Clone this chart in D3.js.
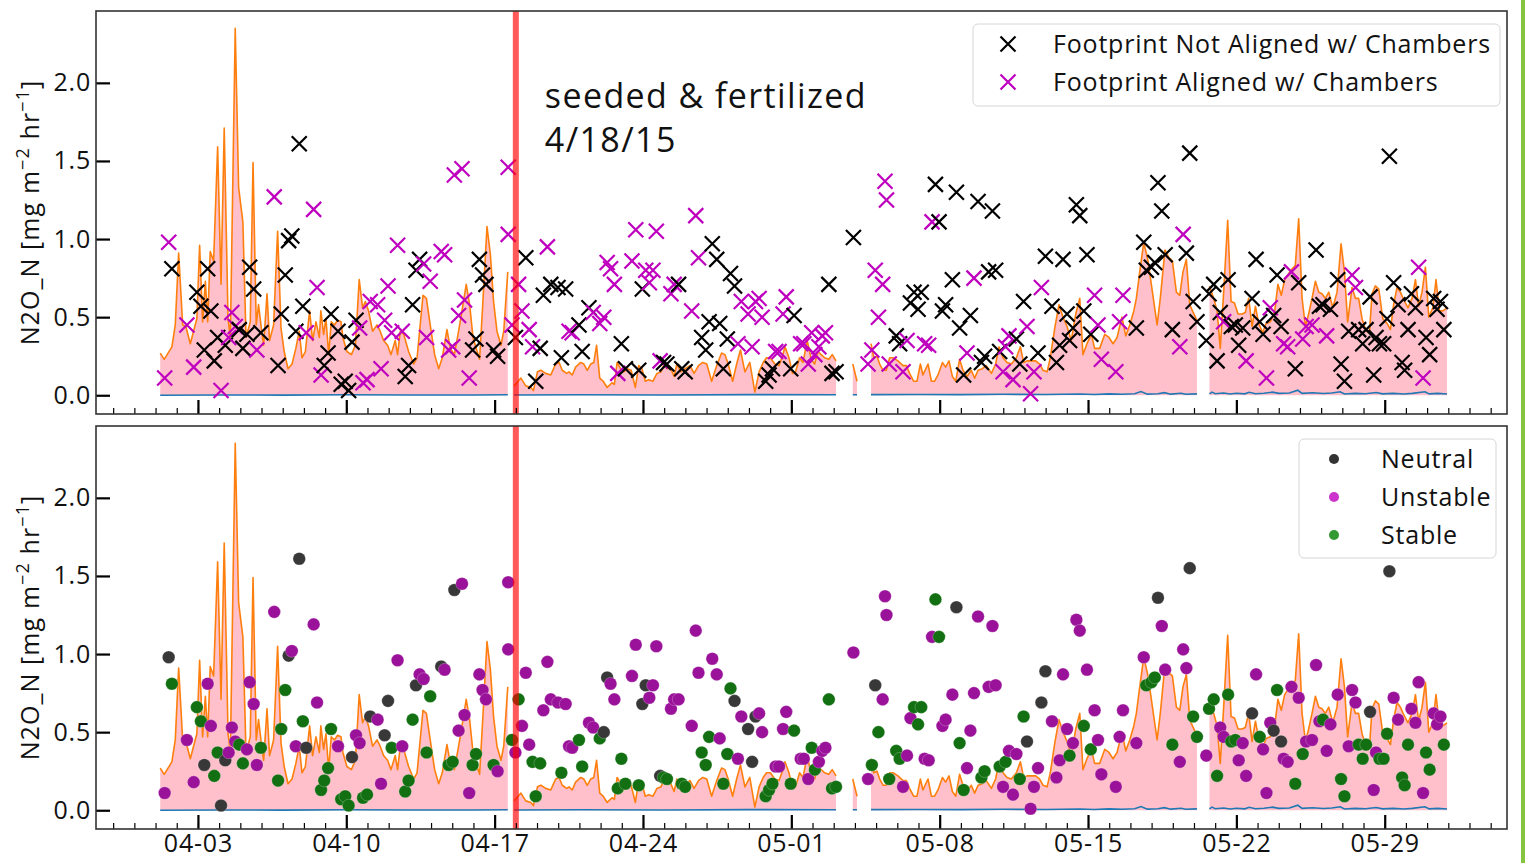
<!DOCTYPE html>
<html>
<head>
<meta charset="utf-8">
<script src="https://cdn.jsdelivr.net/npm/d3@7"></script>
<style>
  body { margin: 0; background: #fff; }
  svg text { font-family: "Open Sans", "Noto Sans", sans-serif; fill: #111; letter-spacing: 0.8px; }
</style>
</head>
<body>
<svg id="chart" width="1529" height="863"></svg>
<script>
// times are days since 2015-04-01 00:00, values in mg m-2 hr-1

// chamber flux (orange line / pink fill), null = gap
const chamberFlux = [
  [0.22,0.27],[0.41,0.23],[0.77,0.31],[0.93,0.45],[1.09,0.91],[1.28,0.45],[1.43,0.44],[1.64,0.33],[1.87,0.45],[1.95,0.49],
  [2.08,0.96],[2.22,0.47],[2.35,0.73],[2.46,0.47],[2.58,0.92],[2.74,0.86],[2.93,1.59],[3.09,0.71],[3.24,1.71],[3.42,0.49],
  [3.53,0.37],[3.76,2.35],[3.92,1.33],[4.12,1.11],[4.27,0.37],[4.47,0.47],[4.60,1.49],[4.75,0.45],[4.86,0.58],[4.99,0.43],
  [5.10,0.32],[5.26,0.65],[5.38,0.35],[5.57,0.45],[5.76,1.05],[5.92,0.43],[6.07,0.28],[6.25,0.17],[6.44,0.20],[6.62,0.30],
  [6.78,0.41],[6.91,0.24],[7.07,0.28],[7.27,0.54],[7.41,0.35],[7.57,0.47],[7.73,0.37],[7.80,0.54],[7.93,0.39],[8.04,0.49],
  [8.17,0.26],[8.29,0.47],[8.44,0.45],[8.59,0.48],[8.75,0.47],[8.84,0.37],[9.03,0.28],[9.24,0.26],[9.43,0.32],[9.61,0.74],
  [9.77,0.56],[9.90,0.60],[10.05,0.54],[10.24,0.41],[10.45,0.45],[10.60,0.41],[10.76,0.35],[10.95,0.32],[11.11,0.26],[11.31,0.35],
  [11.42,0.26],[11.55,0.41],[11.71,0.39],[11.94,0.28],[12.18,0.20],[12.34,0.24],[12.62,0.64],[12.78,0.62],[12.96,0.45],[13.17,0.26],
  [13.36,0.17],[13.53,0.24],[13.75,0.42],[13.91,0.30],[14.10,0.26],[14.30,0.41],[14.46,0.54],[14.66,0.71],[14.82,0.58],[14.98,0.37],
  [15.13,0.30],[15.29,0.23],[15.43,0.56],[15.64,1.08],[15.80,0.90],[15.95,0.60],[16.11,0.41],[16.30,0.32],[16.43,0.41],[16.62,0.79],
  null,
  [16.92,0.06],[17.24,0.11],[17.47,0.06],[17.71,0.05],[17.83,0.03],[18.02,0.15],[18.18,0.16],[18.41,0.14],[18.65,0.13],[18.88,0.20],
  [19.04,0.21],[19.19,0.16],[19.40,0.14],[19.51,0.15],[19.66,0.13],[19.82,0.18],[20.06,0.21],[20.21,0.20],[20.37,0.16],[20.53,0.20],
  [20.68,0.21],[20.81,0.32],[20.96,0.11],[21.12,0.09],[21.31,0.05],[21.54,0.08],[21.65,0.07],[21.78,0.21],[21.94,0.17],[22.09,0.15],
  [22.25,0.17],[22.44,0.16],[22.64,0.05],[22.80,0.19],[22.95,0.17],[23.11,0.09],[23.27,0.10],[23.47,0.09],[23.66,0.14],[23.85,0.15],
  [24.00,0.20],[24.13,0.17],[24.28,0.18],[24.47,0.12],[24.60,0.20],[24.79,0.15],[24.99,0.17],[25.22,0.19],[25.41,0.14],[25.62,0.19],
  [25.82,0.21],[26.01,0.20],[26.24,0.09],[26.48,0.19],[26.71,0.27],[26.87,0.26],[27.02,0.20],[27.23,0.09],[27.42,0.20],[27.60,0.29],
  [27.81,0.15],[28.04,0.21],[28.28,0.02],[28.48,0.15],[28.67,0.21],[28.83,0.24],[29.01,0.24],[29.22,0.20],[29.42,0.19],[29.58,0.25],
  [29.70,0.31],[29.89,0.24],[30.05,0.14],[30.20,0.15],[30.39,0.24],[30.55,0.21],[30.75,0.35],[30.94,0.23],[31.10,0.20],[31.25,0.28],
  [31.41,0.26],[31.57,0.24],[31.77,0.23],[31.93,0.26],[32.11,0.22],
  null,
  [32.90,0.20],[33.10,0.09],
  null,
  [33.76,0.33],[33.89,0.24],[34.04,0.25],[34.17,0.20],[34.33,0.16],[34.48,0.16],[34.64,0.24],[34.80,0.24],[35.03,0.22],[35.27,0.19],
  [35.43,0.19],[35.58,0.14],[35.77,0.09],[35.93,0.09],[36.09,0.20],[36.21,0.13],[36.45,0.20],[36.61,0.09],[36.76,0.09],[36.92,0.13],
  [37.13,0.21],[37.28,0.18],[37.44,0.22],[37.60,0.12],[37.76,0.09],[37.94,0.23],[38.10,0.16],[38.29,0.12],[38.49,0.16],[38.65,0.11],
  [38.81,0.16],[39.01,0.17],[39.20,0.19],[39.44,0.14],[39.64,0.20],[39.80,0.31],[39.99,0.24],[40.18,0.21],[40.38,0.20],[40.62,0.24],
  [40.81,0.31],[40.96,0.21],[41.12,0.22],[41.33,0.22],[41.53,0.22],[41.72,0.20],[41.88,0.16],[42.07,0.15],[42.22,0.24],[42.43,0.43],
  [42.63,0.58],[42.82,0.50],[43.01,0.44],[43.21,0.35],[43.42,0.52],[43.61,0.62],[43.76,0.26],[43.95,0.33],[44.16,0.39],[44.31,0.30],
  [44.55,0.30],[44.79,0.39],[44.99,0.37],[45.18,0.33],[45.37,0.37],[45.60,0.50],[45.78,0.38],[45.97,0.45],[46.16,0.54],[46.28,0.62],
  [46.44,0.79],[46.63,0.98],[46.83,0.86],[47.04,0.66],[47.26,0.45],[47.41,0.62],[47.63,0.93],[47.82,0.88],[47.98,0.86],[48.17,0.66],
  [48.33,0.64],[48.48,0.79],[48.64,0.87],[48.80,0.58],[48.96,0.53],[49.14,0.48],
  null,
  [49.73,0.70],[49.93,0.62],[50.09,0.54],[50.24,0.30],[50.40,0.66],[50.59,1.12],[50.75,0.60],[50.91,0.59],[51.08,0.52],[51.27,0.52],
  [51.42,0.53],[51.58,0.62],[51.74,0.44],[51.90,0.57],[52.05,0.46],[52.24,0.40],[52.40,0.46],[52.60,0.47],[52.81,0.54],[52.96,0.71],
  [53.12,0.64],[53.28,0.74],[53.47,0.78],[53.63,0.81],[53.78,0.83],[53.94,1.13],[54.10,0.62],[54.26,0.44],[54.41,0.52],[54.57,0.62],
  [54.73,0.73],[54.89,0.66],[55.04,0.65],[55.20,0.62],[55.36,0.66],[55.55,0.56],[55.75,0.66],[55.94,0.97],[56.10,0.79],[56.25,0.47],
  [56.46,0.69],[56.62,0.62],[56.77,0.62],[56.93,0.49],[57.12,0.41],[57.28,0.40],[57.40,0.65],[57.56,0.70],[57.72,0.68],[57.91,0.49],
  [58.11,0.46],[58.27,0.42],[58.42,0.58],[58.58,0.69],[58.74,0.66],[58.90,0.61],[59.10,0.56],[59.29,0.62],[59.45,0.74],[59.60,0.57],
  [59.76,0.66],[59.92,0.82],[60.08,0.50],[60.27,0.56],[60.42,0.74],[60.58,0.54],[60.74,0.54],[60.94,0.56]
];

// background flux (blue line near zero), null = gap
const baselineFlux = [
  [0.22,0.000],[3,0.002],[6,0.001],[9,0.003],[12,0.002],[15,0.002],[16.62,0.003],null,
  [16.92,0.002],[20,0.003],[24,0.002],[28,0.004],[32.11,0.003],null,
  [32.90,0.003],[33.10,0.003],null,
  [33.76,0.004],[36,0.005],[38,0.004],[40,0.006],[42,0.005],[43.6,0.008],[44.3,0.005],[45,0.009],[45.6,0.006],[46.2,0.010],
  [46.5,0.024],[46.8,0.007],[47.3,0.010],[47.6,0.017],[47.9,0.007],[48.4,0.013],[48.6,0.006],[49.14,0.009],null,
  [49.73,0.009],[49.85,0.020],[50.0,0.010],[50.4,0.014],[50.7,0.008],[51.0,0.013],[51.4,0.009],[51.6,0.019],[51.9,0.010],
  [52.3,0.013],[52.7,0.020],[53.0,0.012],[53.5,0.014],[53.9,0.032],[54.1,0.012],[54.6,0.016],[55.1,0.011],[55.5,0.014],
  [55.9,0.022],[56.1,0.008],[56.6,0.012],[57.1,0.010],[57.6,0.018],[57.9,0.009],[58.4,0.012],[58.9,0.008],[59.3,0.012],
  [59.9,0.022],[60.1,0.009],[60.5,0.012],[60.94,0.008]
];

// eddy covariance observations: [time, value, stability N/U/S, footprint aligned 1/0]
const towerFlux = [
  [0.43,0.11,"U",1],[0.62,0.98,"N",1],[0.77,0.81,"S",0],[1.48,0.45,"U",1],[1.80,0.18,"U",1],[1.95,0.66,"S",0],[2.14,0.57,"S",0],
  [2.30,0.29,"N",0],[2.46,0.81,"U",0],[2.61,0.54,"U",0],[2.77,0.22,"S",0],[2.93,0.37,"S",0],[3.09,0.03,"N",1],[3.29,0.32,"N",0],
  [3.45,0.37,"U",1],[3.60,0.53,"U",1],[3.76,0.44,"U",1],[3.95,0.42,"S",0],[4.12,0.30,"S",0],[4.31,0.39,"U",0],[4.44,0.82,"U",0],
  [4.63,0.68,"U",0],[4.78,0.29,"U",1],[4.97,0.40,"S",0],[5.60,1.27,"U",1],[5.78,0.19,"S",0],[5.93,0.52,"S",0],[6.12,0.77,"S",0],
  [6.28,0.99,"N",0],[6.43,1.02,"U",0],[6.62,0.41,"U",0],[6.78,1.61,"N",0],[6.95,0.57,"S",0],[7.11,0.40,"N",1],[7.46,1.19,"U",1],
  [7.62,0.69,"U",1],[7.81,0.13,"S",1],[7.96,0.19,"S",0],[8.14,0.27,"S",0],[8.28,0.52,"S",0],[8.61,0.41,"U",0],[8.76,0.07,"S",0],
  [8.95,0.09,"S",0],[9.11,0.03,"S",0],[9.27,0.34,"N",0],[9.46,0.48,"U",0],[9.63,0.43,"U",1],[9.79,0.08,"S",1],[9.98,0.10,"S",1],
  [10.13,0.60,"N",1],[10.48,0.58,"U",1],[10.64,0.17,"U",1],[10.81,0.48,"N",1],[10.97,0.70,"N",1],[11.14,0.40,"S",1],[11.42,0.96,"U",1],
  [11.64,0.41,"U",1],[11.78,0.12,"S",0],[11.94,0.19,"S",0],[12.13,0.58,"S",0],[12.29,0.80,"N",0],[12.46,0.87,"U",0],[12.65,0.84,"U",1],
  [12.79,0.37,"S",1],[12.96,0.73,"S",1],[13.48,0.92,"N",1],[13.64,0.90,"U",1],[13.83,0.29,"S",1],[14.02,0.31,"S",1],[14.10,1.41,"N",1],
  [14.30,0.51,"U",1],[14.46,1.45,"U",1],[14.58,0.61,"U",1],[14.80,0.11,"U",1],[14.96,0.29,"S",0],[15.12,0.36,"S",0],[15.28,0.87,"U",0],
  [15.43,0.77,"U",0],[15.59,0.71,"U",0],[15.95,0.29,"S",0],[16.14,0.25,"U",0],[16.64,1.46,"U",1],[16.64,1.03,"U",1],[16.82,0.45,"S",1],
  [16.98,0.37,"U",0],[17.13,0.71,"S",1],[17.29,0.54,"U",1],
  [17.47,0.88,"U",0],[17.63,0.42,"U",1],[17.79,0.31,"S",1],[17.94,0.09,"S",0],[18.15,0.30,"S",0],[18.30,0.64,"U",0],[18.49,0.95,"U",1],
  [18.65,0.71,"U",0],[18.99,0.69,"U",0],[19.15,0.24,"S",0],[19.35,0.68,"U",0],[19.51,0.41,"U",1],[19.66,0.40,"U",1],[19.98,0.45,"S",0],
  [20.13,0.28,"S",0],[20.45,0.56,"U",0],[20.65,0.53,"U",1],[20.96,0.46,"S",1],[21.15,0.50,"N",1],[21.31,0.85,"N",1],[21.47,0.81,"U",1],
  [21.65,0.71,"U",1],[21.81,0.14,"S",1],[21.98,0.33,"S",0],[22.17,0.17,"S",0],[22.48,0.86,"U",1],[22.66,1.06,"U",1],[22.80,0.16,"S",0],
  [22.97,0.68,"N",0],[23.13,0.80,"N",1],[23.30,0.72,"U",1],[23.47,0.80,"U",1],[23.63,1.05,"U",1],[23.81,0.22,"N",1],[23.97,0.21,"S",0],
  [24.13,0.20,"S",0],[24.32,0.65,"U",1],[24.47,0.71,"U",1],[24.68,0.71,"U",0],[24.83,0.17,"S",0],[24.99,0.15,"S",0],[25.30,0.54,"U",1],
  [25.49,1.15,"U",1],[25.62,0.88,"U",1],[25.77,0.37,"S",0],[25.96,0.29,"S",0],[26.12,0.47,"S",0],[26.27,0.97,"U",0],[26.48,0.87,"U",0],
  [26.62,0.46,"U",0],[26.79,0.17,"S",0],[26.98,0.36,"S",0],[27.13,0.78,"S",0],[27.32,0.70,"N",0],[27.48,0.33,"U",1],[27.64,0.60,"U",1],
  [27.96,0.52,"N",1],[28.15,0.31,"N",1],[28.31,0.60,"N",1],[28.48,0.62,"U",1],[28.62,0.50,"U",1],[28.79,0.09,"S",0],[28.95,0.13,"S",0],
  [29.11,0.17,"S",0],[29.26,0.28,"U",1],[29.42,0.28,"U",1],[29.61,0.52,"U",1],[29.76,0.63,"U",1],[29.97,0.17,"S",0],[30.13,0.51,"S",0],
  [30.44,0.33,"U",1],[30.59,0.33,"U",1],[30.80,0.20,"U",1],[30.96,0.40,"S",1],[31.11,0.26,"S",1],[31.30,0.31,"U",1],[31.46,0.38,"U",1],
  [31.61,0.40,"U",1],[31.77,0.71,"S",0],[31.92,0.14,"S",0],[32.11,0.15,"S",0],[32.93,1.01,"U",0],[33.62,0.20,"U",1],[33.80,0.29,"S",1],
  [33.96,0.80,"N",1],[34.11,0.50,"S",1],[34.31,0.71,"U",1],[34.42,1.37,"U",1],[34.49,1.25,"U",1],[34.62,0.20,"S",1],
  [34.95,0.38,"S",0],[35.11,0.33,"S",0],[35.27,0.15,"U",1],[35.46,0.35,"U",1],[35.62,0.59,"U",0],[35.79,0.66,"S",0],[35.98,0.55,"S",0],
  [36.13,0.66,"S",0],[36.29,0.33,"U",1],[36.48,0.32,"U",1],[36.64,1.11,"U",1],[36.80,1.35,"S",0],[36.97,1.11,"S",0],[37.13,0.54,"U",0],
  [37.28,0.58,"U",0],[37.60,0.74,"U",0],[37.79,1.30,"N",0],[37.94,0.43,"S",0],[38.13,0.13,"S",0],[38.29,0.27,"U",1],[38.45,0.51,"U",0],
  [38.62,0.75,"U",1],[38.81,1.24,"U",0],[38.97,0.21,"S",0],[39.12,0.25,"S",0],[39.31,0.79,"U",0],[39.49,1.18,"U",0],[39.64,0.80,"U",0],
  [39.83,0.28,"S",0],[39.99,0.15,"U",1],[40.11,0.31,"S",1],[40.27,0.38,"U",1],[40.46,0.10,"U",1],[40.62,0.36,"U",0],[40.78,0.20,"S",0],
  [40.96,0.60,"S",0],[41.12,0.44,"N",1],[41.29,0.01,"U",1],[41.45,0.15,"U",1],[41.64,0.27,"U",0],[41.80,0.69,"N",1],[41.99,0.89,"N",0],
  [42.30,0.57,"U",0],[42.51,0.21,"U",0],[42.66,0.32,"U",0],[42.82,0.87,"U",0],[43.01,0.52,"U",0],[43.13,0.35,"S",0],[43.29,0.43,"U",0],
  [43.45,1.22,"U",0],[43.61,1.15,"U",0],[43.80,0.54,"S",0],[43.95,0.90,"U",0],[44.13,0.39,"S",0],[44.31,0.64,"U",1],[44.47,0.45,"U",1],
  [44.63,0.23,"U",1],[45.31,0.15,"U",1],[45.49,0.47,"U",1],[45.65,0.64,"U",1],[46.28,0.43,"U",0],[46.63,0.98,"U",0],[46.75,0.80,"S",0],
  [46.99,0.82,"S",0],[47.15,0.85,"S",0],[47.30,1.36,"N",0],[47.48,1.18,"U",0],[47.64,0.90,"U",0],[47.98,0.42,"S",0],[48.33,0.31,"U",1],
  [48.49,1.03,"U",1],[48.64,0.91,"U",0],[48.80,1.55,"N",0],[48.96,0.60,"S",0],[49.14,0.47,"S",0],[49.58,0.35,"U",0],[49.71,0.65,"S",0],
  [49.93,0.71,"S",0],[50.09,0.22,"S",0],[50.24,0.53,"U",0],[50.40,0.47,"U",1],[50.61,0.74,"S",0],[50.76,0.44,"S",0],[50.95,0.45,"S",0],
  [51.11,0.32,"U",0],[51.30,0.43,"U",0],[51.46,0.22,"U",1],[51.74,0.62,"N",0],[51.93,0.87,"U",0],[52.10,0.47,"S",0],[52.26,0.39,"U",0],
  [52.42,0.11,"U",1],[52.60,0.56,"U",1],[52.76,0.51,"N",0],[52.92,0.77,"S",0],[53.11,0.44,"N",0],[53.23,0.33,"U",1],[53.42,0.31,"U",1],
  [53.60,0.79,"U",1],[53.78,0.17,"S",0],[53.94,0.72,"U",0],[54.13,0.36,"S",1],[54.29,0.44,"U",1],[54.57,0.45,"U",1],[54.76,0.93,"U",0],
  [54.92,0.57,"U",0],[55.09,0.58,"S",0],[55.26,0.38,"U",1],[55.44,0.55,"U",0],[55.78,0.74,"U",0],[55.94,0.20,"S",0],[56.10,0.09,"S",0],
  [56.30,0.41,"U",0],[56.46,0.77,"U",1],[56.62,0.69,"U",1],[56.77,0.42,"S",0],[56.96,0.33,"S",0],[57.12,0.42,"S",0],[57.31,0.63,"N",0],
  [57.48,0.13,"U",0],[57.59,0.37,"U",0],[57.75,0.33,"S",0],[57.95,0.33,"S",0],[58.11,0.49,"S",0],[58.22,1.53,"N",0],[58.42,0.72,"U",0],
  [58.63,0.58,"U",0],[58.82,0.21,"S",0],[58.94,0.16,"S",0],[59.10,0.42,"S",0],[59.26,0.65,"U",0],[59.45,0.56,"U",0],[59.60,0.82,"U",1],
  [59.81,0.11,"U",1],[59.95,0.37,"S",0],[60.12,0.26,"S",0],[60.31,0.62,"U",0],[60.47,0.55,"U",0],[60.63,0.60,"U",0],[60.79,0.42,"S",0]
];

const footprintLabels = ["Footprint Not Aligned w/ Chambers", "Footprint Aligned w/ Chambers"];
const stabilityLabels = ["Neutral", "Unstable", "Stable"];
const yTicks = [0, 0.5, 1.0, 1.5, 2.0];
const eventDay = 17; // 4/18/15
const eventLines = ["seeded & fertilized", "4/18/15"];

const svg = d3.select("#chart");
const day0 = Date.UTC(2015, 3, 1);
const toDate = (t) => new Date(day0 + t * 864e5);

const footColor = { 0: "#000000", 1: "#bf00bf" };
const stabColor = { N: "#383838", U: "#9a1299", S: "#127012" };
const stabLegendColor = { N: "#333333", U: "#cc33cc", S: "#339933" };
const stabCodes = ["N", "U", "S"];

const x = d3.scaleUtc()
  .domain([toDate(-2.81), toDate(63.77)])
  .range([96, 1507]);

const allDays = d3.utcDay.range(x.domain()[0], x.domain()[1]);
const weekDays = allDays.filter((d) => {
  const n = Math.round((d - day0) / 864e5) - 2;
  return ((n % 7) + 7) % 7 === 0;
});

const panels = [
  { id: "foot", top: 11, bottom: 414, labels: false },
  { id: "stab", top: 426, bottom: 829, labels: true }
];

// green edge strip at the right of the figure
svg.append("rect").attr("x", 1521).attr("y", 0).attr("width", 4).attr("height", 863).attr("fill", "#86c440");

panels.forEach((p) => {
  const y = d3.scaleLinear().domain([-0.12, 2.46]).range([p.bottom, p.top]);
  const g = svg.append("g");

  g.append("clipPath").attr("id", "clip-" + p.id)
    .append("rect").attr("x", 96).attr("y", p.top).attr("width", 1411).attr("height", p.bottom - p.top);

  const plot = g.append("g").attr("clip-path", `url(#clip-${p.id})`);

  const area = d3.area()
    .defined((d) => d)
    .x((d) => x(toDate(d[0])))
    .y0(y(0))
    .y1((d) => y(d[1]));

  const line = d3.line()
    .defined((d) => d)
    .x((d) => x(toDate(d[0])))
    .y((d) => y(d[1]));

  plot.append("path").datum(chamberFlux).attr("d", area).attr("fill", "#ffc0cb");
  plot.append("path").datum(chamberFlux).attr("d", line)
    .attr("fill", "none").attr("stroke", "#ff7f0e").attr("stroke-width", 1.6).attr("stroke-linejoin", "round");
  plot.append("path").datum(baselineFlux).attr("d", line)
    .attr("fill", "none").attr("stroke", "#1f77b4").attr("stroke-width", 1.6);

  if (p.id === "foot") {
    plot.selectAll("path.obs")
      .data(towerFlux)
      .join("path")
      .attr("class", "obs")
      .attr("transform", (d) => `translate(${x(toDate(d[0]))},${y(d[1])})`)
      .attr("d", "M-7.5,-7.5L7.5,7.5M-7.5,7.5L7.5,-7.5")
      .attr("fill", "none")
      .attr("stroke", (d) => footColor[d[3]])
      .attr("stroke-width", 2.2);
  } else {
    plot.selectAll("circle.obs")
      .data(towerFlux)
      .join("circle")
      .attr("class", "obs")
      .attr("cx", (d) => x(toDate(d[0])))
      .attr("cy", (d) => y(d[1]))
      .attr("r", 6.3)
      .attr("fill", (d) => stabColor[d[2]])
      .attr("stroke", "#ffffff")
      .attr("stroke-opacity", 0.4)
      .attr("stroke-width", 0.6);
  }

  // planting / fertilizer date
  plot.append("rect")
    .attr("x", x(toDate(eventDay)) - 3)
    .attr("y", p.top)
    .attr("width", 6)
    .attr("height", p.bottom - p.top)
    .attr("fill", "#ff0000")
    .attr("opacity", 0.65);

  // axes (ticks inside)
  const xMinor = d3.axisBottom(x).tickValues(allDays).tickSizeInner(-6).tickSizeOuter(0).tickFormat("");
  g.append("g").attr("transform", `translate(0,${p.bottom})`).call(xMinor)
    .call((s) => s.select(".domain").remove())
    .call((s) => s.selectAll(".tick line").attr("stroke", "#000").attr("stroke-width", 1.2));

  const xMajor = d3.axisBottom(x).tickValues(weekDays).tickSizeInner(-14).tickSizeOuter(0).tickPadding(5)
    .tickFormat(p.labels ? d3.utcFormat("%m-%d") : "");
  g.append("g").attr("transform", `translate(0,${p.bottom})`).call(xMajor)
    .attr("font-size", 25).attr("font-family", null)
    .call((s) => s.select(".domain").remove())
    .call((s) => s.selectAll(".tick line").attr("stroke", "#000").attr("stroke-width", 2.2));

  const yAxis = d3.axisLeft(y).tickValues(yTicks).tickSizeInner(-14).tickSizeOuter(0).tickPadding(5)
    .tickFormat(d3.format(".1f"));
  g.append("g").attr("transform", "translate(96,0)").call(yAxis)
    .attr("font-size", 25).attr("font-family", null)
    .call((s) => s.select(".domain").remove())
    .call((s) => s.selectAll(".tick line").attr("stroke", "#000").attr("stroke-width", 2.2));

  g.append("rect")
    .attr("x", 96).attr("y", p.top).attr("width", 1411).attr("height", p.bottom - p.top)
    .attr("fill", "none").attr("stroke", "#333").attr("stroke-width", 1.6);

  // y label
  const yl = g.append("text")
    .attr("transform", `translate(39,${(p.top + p.bottom) / 2}) rotate(-90)`)
    .attr("text-anchor", "middle")
    .attr("font-size", 25)
    .style("letter-spacing", "1.1px");
  yl.append("tspan").text("N2O_N [mg m");
  yl.append("tspan").attr("dy", -10).attr("font-size", 18).text("\u22122");
  yl.append("tspan").attr("dy", 10).text(" hr");
  yl.append("tspan").attr("dy", -10).attr("font-size", 18).text("\u22121");
  yl.append("tspan").attr("dy", 10).text("]");

  if (p.id === "foot") {
    const tx = x(toDate(eventDay)) + 29;
    g.selectAll("text.event")
      .data(eventLines)
      .join("text")
      .attr("class", "event")
      .attr("x", tx)
      .attr("y", (d, i) => 108 + i * 44)
      .attr("font-size", 34)
      .style("letter-spacing", "1.4px")
      .text((d) => d);

    const lg = g.append("g");
    lg.append("rect").attr("x", 973).attr("y", 24).attr("width", 527).attr("height", 82).attr("rx", 5)
      .attr("fill", "#fff").attr("fill-opacity", 0.8).attr("stroke", "#d6d6d6");
    footprintLabels.forEach((lab, i) => {
      const cy = 44 + i * 38;
      lg.append("path").attr("transform", `translate(1008,${cy})`)
        .attr("d", "M-7.5,-7.5L7.5,7.5M-7.5,7.5L7.5,-7.5")
        .attr("stroke", footColor[i]).attr("stroke-width", 2.2).attr("fill", "none");
      lg.append("text").attr("x", 1053).attr("y", cy + 9).attr("font-size", 25).text(lab);
    });
  } else {
    const lg = g.append("g");
    lg.append("rect").attr("x", 1299).attr("y", 439).attr("width", 197).attr("height", 119).attr("rx", 5)
      .attr("fill", "#fff").attr("fill-opacity", 0.8).attr("stroke", "#d6d6d6");
    stabilityLabels.forEach((lab, i) => {
      const cy = 459 + i * 38;
      lg.append("circle").attr("cx", 1334).attr("cy", cy).attr("r", 5)
        .attr("fill", stabLegendColor[stabCodes[i]]);
      lg.append("text").attr("x", 1381).attr("y", cy + 9).attr("font-size", 25).text(lab);
    });
  }
});
</script>
</body>
</html>
